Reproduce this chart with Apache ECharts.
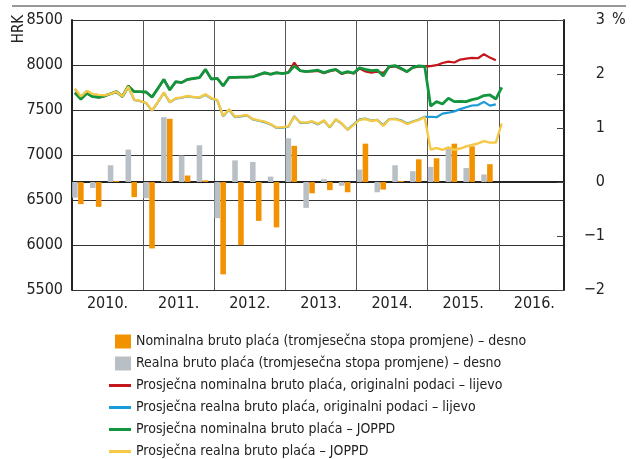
<!DOCTYPE html>
<html>
<head>
<meta charset="utf-8">
<script src="https://cdn.jsdelivr.net/npm/echarts@6/dist/echarts.min.js"></script>
<style>
html, body { margin: 0; padding: 0; background: #fff; }
#chart { width: 636px; height: 459px; }
</style>
</head>
<body>
<div id="chart"></div>
<script>
// godine na osi x (mjesečne kategorije, siječanj 2010. - studeni 2016.)
var years = ['2010', '2011', '2012', '2013', '2014', '2015', '2016'];
var monthCount = 83;

// tromjesečne stope promjene (%), 2010. Q1 - 2015. Q4 - desna os
var nominalQ = [-0.41, -0.46, 0.02, -0.28,
                -1.23, 1.17, 0.12, 0.03,
                -1.71, -1.17, -0.72, -0.84,
                0.67, -0.21, -0.15, -0.19,
                0.71, -0.14, 0.02, 0.42,
                0.44, 0.71, 0.66, 0.33];
var realQ = [-0.29, -0.11, 0.31, 0.60,
             -0.30, 1.20, 0.49, 0.68,
             -0.67, 0.40, 0.37, 0.10,
             0.81, -0.48, 0.05, -0.07,
             0.23, -0.19, 0.31, 0.20,
             0.28, 0.65, 0.26, 0.14];

// prosječne plaće (HRK), mjesečno - lijeva os
var nominalOrig = [7692,7625,7685,7650,7641,7655,7680,7704,7650,7765,7704,7700,
                   7698,7645,7740,7838,7725,7812,7806,7838,7850,7860,7948,7846,
                   7850,7770,7860,7862,7866,7866,7870,7895,7910,7900,7912,7908,
                   7918,8026,7935,7930,7930,7935,7910,7930,7945,7900,7920,7905,
                   7960,7928,7915,7925,7912,7975,7985,7955,7925,7970,7982,7983,
                   7988,7998,8022,8037,8028,8060,8070,8080,8075,8120,8082,8052];
var realOrig = [7732,7648,7710,7672,7665,7660,7678,7700,7648,7756,7612,7598,
                7578,7493,7588,7692,7585,7627,7636,7652,7642,7636,7670,7628,
                7606,7430,7503,7420,7430,7440,7396,7380,7365,7340,7300,7305,
                7314,7432,7358,7356,7370,7340,7380,7306,7394,7348,7282,7340,
                7395,7405,7382,7392,7330,7400,7403,7386,7350,7372,7394,7424,
                7425,7420,7460,7470,7485,7510,7530,7550,7555,7590,7548,7563];
var nominalJoppd = [7692,7620,7685,7648,7641,7655,7680,7704,7648,7767,7704,7704,
                    7700,7641,7740,7841,7722,7815,7804,7841,7850,7859,7952,7844,
                    7852,7767,7863,7863,7865,7865,7868,7890,7915,7896,7915,7905,
                    7915,7989,7937,7926,7935,7942,7915,7937,7952,7907,7926,7910,
                    7968,7952,7937,7944,7878,7985,7993,7963,7926,7974,7989,7985,
                    7544,7593,7567,7630,7593,7595,7593,7615,7630,7660,7667,7622,
                    7752];
var realJoppd = [7735,7650,7712,7676,7668,7662,7680,7704,7650,7759,7615,7600,
                 7580,7495,7590,7696,7587,7630,7640,7656,7645,7640,7674,7632,
                 7611,7433,7507,7425,7435,7444,7400,7385,7370,7344,7304,7310,
                 7318,7426,7362,7360,7375,7345,7385,7310,7398,7352,7280,7335,
                 7390,7400,7378,7389,7322,7396,7398,7380,7344,7368,7390,7420,
                 7060,7078,7058,7085,7058,7072,7095,7112,7128,7155,7137,7137,
                 7350];

var names = [
  'Nominalna bruto plaća (tromjesečna stopa promjene) – desno',
  'Realna bruto plaća (tromjesečna stopa promjene) – desno',
  'Prosječna nominalna bruto plaća, originalni podaci – lijevo',
  'Prosječna realna bruto plaća, originalni podaci – lijevo',
  'Prosječna nominalna bruto plaća – JOPPD',
  'Prosječna realna bruto plaća – JOPPD'
];

var FONT = '"Liberation Sans Narrow", "DejaVu Sans Condensed", "Liberation Sans", sans-serif';

var months = [];
for (var y = 0; y < years.length; y++) {
  for (var m = 1; m <= 12; m++) {
    months.push(years[y] + '-' + (m < 10 ? '0' + m : m));
  }
}
months = months.slice(0, monthCount);

// stupci: realna u prvom, nominalna u drugom mjesecu tromjesečja
var realBars = [], nominalBars = [];
for (var i = 0; i < monthCount; i++) { realBars.push('-'); nominalBars.push('-'); }
for (var q = 0; q < realQ.length; q++) {
  realBars[q * 3] = realQ[q];
  nominalBars[q * 3 + 1] = nominalQ[q];
}

var barIcon = 'path://M0,0M6,0H22V14H6Z';
var lineIcon = 'path://M0,0M0,5.5H22V8.5H0ZM22,14';

var myChart = echarts.init(document.getElementById('chart'));
var option = {
  animation: false,
  textStyle: { fontFamily: FONT },
  grid: { left: 72, right: 72, top: 20, bottom: 169 },
  xAxis: {
    type: 'category',
    data: months,
    boundaryGap: true,
    axisLine: { lineStyle: { color: '#222', width: 2 } },
    axisTick: { show: false },
    axisLabel: {
      interval: function (idx) { return idx % 12 === 6; },
      formatter: function (v) { return v.slice(0, 4) + '.'; },
      padding: [0, 6, 0, 0],
      margin: 6,
      color: '#222',
      fontSize: 16,
      fontFamily: FONT
    },
    splitLine: {
      show: true,
      interval: function (idx) { return idx % 12 === 0; },
      lineStyle: { color: '#555', width: 1 }
    }
  },
  yAxis: [{
    type: 'value',
    min: 5500,
    max: 8500,
    interval: 500,
    axisLine: { show: true, lineStyle: { color: '#222', width: 2 } },
    axisTick: { show: false },
    axisLabel: {
      color: '#222', fontSize: 16, margin: 9, fontFamily: FONT,
      formatter: function (v) { return String(v); }
    },
    splitLine: { lineStyle: { color: '#333', width: 1 } }
  }, {
    type: 'value',
    position: 'right',
    min: -2,
    max: 3,
    interval: 1,
    axisLine: { show: true, lineStyle: { color: '#222', width: 2 } },
    axisTick: { show: true, inside: true, length: 7, lineStyle: { color: '#444' } },
    axisLabel: {
      align: 'right',
      margin: 41,
      color: '#222',
      fontSize: 16,
      fontFamily: FONT,
      formatter: function (v) { return v < 0 ? '\u2212' + Math.abs(v) : String(v); }
    },
    splitLine: { show: false }
  }],
  legend: {
    orient: 'vertical',
    left: 109,
    top: 334.5,
    height: 130,
    padding: 0,
    itemWidth: 22,
    itemHeight: 14,
    itemGap: 8,
    textStyle: { color: '#222', fontSize: 14, fontFamily: FONT },
    data: [
      { name: names[0], icon: barIcon },
      { name: names[1], icon: barIcon },
      { name: names[2], icon: lineIcon },
      { name: names[3], icon: lineIcon },
      { name: names[4], icon: lineIcon },
      { name: names[5], icon: lineIcon }
    ]
  },
  graphic: [
    { type: 'line', shape: { x1: 12, y1: 6, x2: 626, y2: 6 }, style: { stroke: '#333', lineWidth: 1 } },
    { type: 'text', x: 19, y: 29, rotation: Math.PI / 2,
      style: { text: 'HRK', font: '15px ' + FONT, fill: '#222', textAlign: 'center', textVerticalAlign: 'middle' } },
    { type: 'text', x: 612, y: 20,
      style: { text: '%', font: '16px ' + FONT, fill: '#222', textAlign: 'left', textVerticalAlign: 'middle' } }
  ],
  series: [
    {
      name: names[1], type: 'bar', yAxisIndex: 1, data: realBars,
      barWidth: '94%', barGap: '-100%', barCategoryGap: '0%',
      itemStyle: { color: '#b8c0c6' }
    },
    {
      name: names[0], type: 'bar', yAxisIndex: 1, data: nominalBars,
      barWidth: '94%', barGap: '-100%', barCategoryGap: '0%',
      itemStyle: { color: '#f39200' }
    },
    {
      name: names[2], type: 'line', data: nominalOrig, symbol: 'none',
      lineStyle: { color: '#c4161c', width: 2.2 }, itemStyle: { color: '#c4161c' }
    },
    {
      name: names[3], type: 'line', data: realOrig, symbol: 'none',
      lineStyle: { color: '#1b9bd7', width: 2.2 }, itemStyle: { color: '#1b9bd7' }
    },
    {
      name: names[4], type: 'line', data: nominalJoppd, symbol: 'none',
      lineStyle: { color: '#12963d', width: 2.8 }, itemStyle: { color: '#12963d' }
    },
    {
      name: names[5], type: 'line', data: realJoppd, symbol: 'none',
      lineStyle: { color: '#f6c945', width: 2.4 }, itemStyle: { color: '#f6c945' }
    }
  ]
};
myChart.setOption(option);
</script>
</body>
</html>
